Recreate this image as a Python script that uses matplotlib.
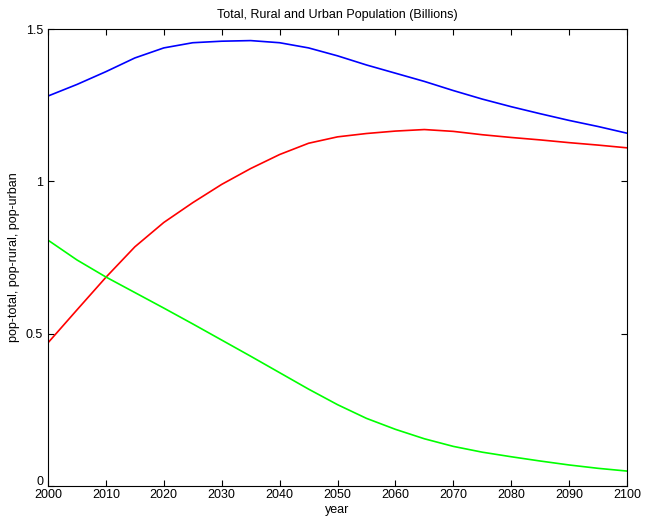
import numpy as np
import matplotlib.pyplot as plt
from matplotlib.transforms import ScaledTranslation

plt.rcParams['font.family'] = ['Liberation Sans', 'DejaVu Sans']

# population in billions, sampled every 5 years
years = np.arange(2000, 2101, 5)
pop_total = [1.280, 1.318, 1.360, 1.405, 1.438, 1.455, 1.460, 1.462, 1.455, 1.438, 1.412,
             1.382, 1.355, 1.328, 1.298, 1.270, 1.245, 1.222, 1.200, 1.180, 1.158]
pop_urban = [0.470, 0.578, 0.685, 0.785, 0.865, 0.930, 0.990, 1.042, 1.088, 1.125, 1.146,
             1.157, 1.165, 1.170, 1.164, 1.153, 1.144, 1.136, 1.127, 1.119, 1.110]
pop_rural = [0.807, 0.742, 0.686, 0.635, 0.584, 0.532, 0.479, 0.426, 0.372, 0.318, 0.267,
             0.222, 0.186, 0.155, 0.130, 0.111, 0.096, 0.082, 0.069, 0.058, 0.049]

fig = plt.figure(figsize=(6.46, 5.2), dpi=100)
ax = fig.add_axes([0.0743, 0.0654, 0.8963, 0.8788])

ax.plot(years, pop_total, color='#0000ff', lw=1.2)
ax.plot(years, pop_urban, color='#ff0000', lw=1.2)
ax.plot(years, pop_rural, color='#00ff00', lw=1.2)

ax.set_xlim(2000, 2100)
ax.set_ylim(0, 1.5)
ax.set_xticks(np.arange(2000, 2101, 10))
ax.set_yticks([0, 0.5, 1, 1.5])
ax.set_yticklabels(['0', '0.5', '1', '1.5'])
ax.tick_params(direction='in', length=4, width=0.8, top=True, right=True, labelsize=9)
ax.tick_params(axis='x', pad=2.5)
for s in ax.spines.values():
    s.set_linewidth(0.8)

# lift the "0" label a little so it clears the first year label
zero_lbl = ax.get_yticklabels()[0]
zero_lbl.set_transform(zero_lbl.get_transform() + ScaledTranslation(0, 4 / 72, fig.dpi_scale_trans))

ax.set_title('Total, Rural and Urban Population (Billions)', fontsize=9, pad=8)
ax.set_xlabel('year', fontsize=9, labelpad=2)
ax.set_ylabel('pop-total, pop-rural, pop-urban', fontsize=9, labelpad=4)

fig.savefig('out.png', dpi=100)
